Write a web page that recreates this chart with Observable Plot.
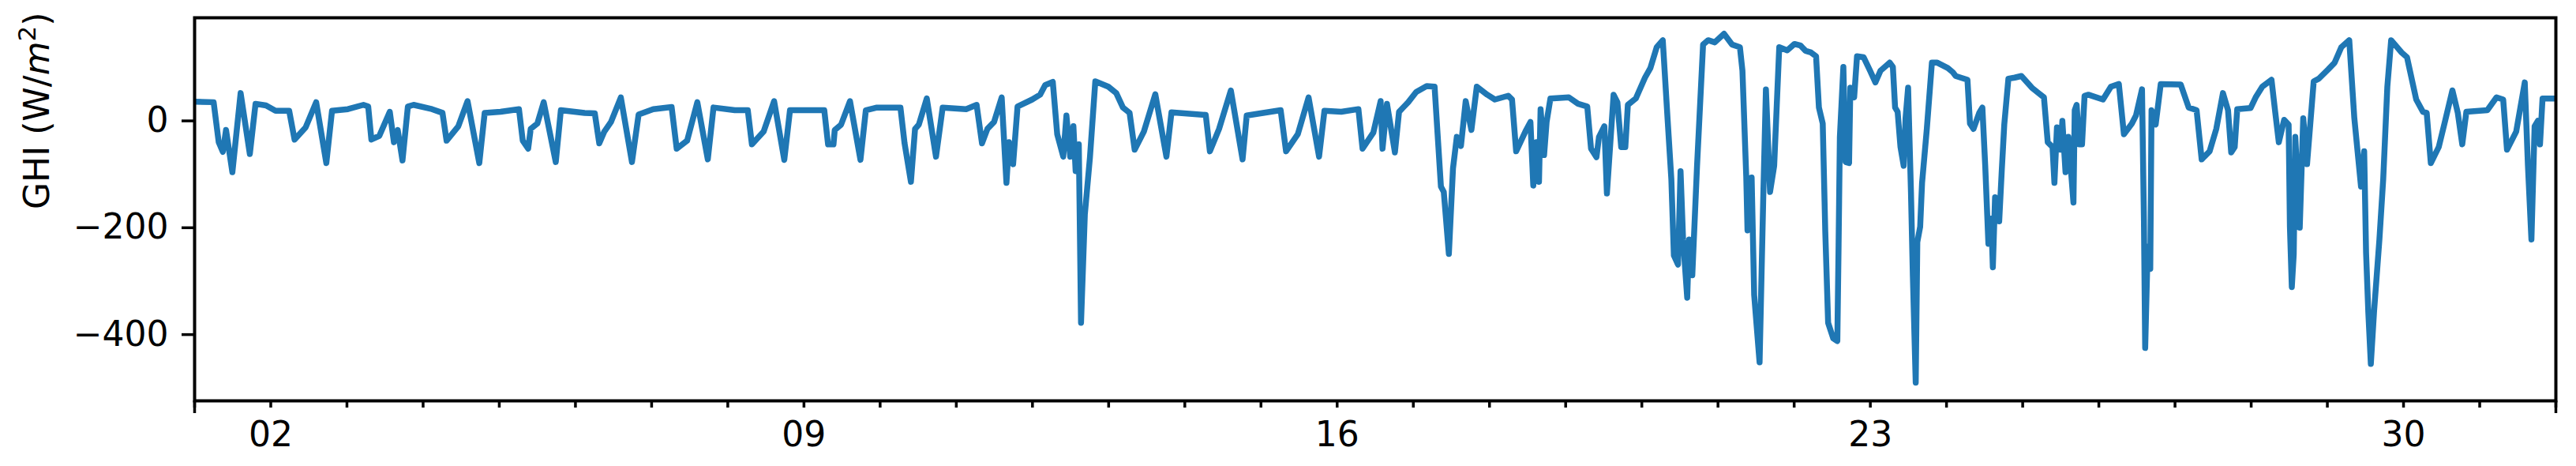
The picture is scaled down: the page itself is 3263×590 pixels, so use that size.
<!DOCTYPE html>
<html>
<head>
<meta charset="utf-8">
<script src="https://cdn.jsdelivr.net/npm/d3@7"></script>
<script src="https://cdn.jsdelivr.net/npm/@observablehq/plot@0.6"></script>
<style>
  html, body { margin: 0; padding: 0; background: #fff; }
  #chart svg { display: block; }
</style>
</head>
<body>
<div id="chart"></div>
<script>
// Hours since the start of the month (UTC) and GHI values (W/m²)
const hours = [
  0,6,7.6,8.9,9.9,11.9,14.5,17.4,19.2,22.5,25.5,29.8,31.5,35,38.3,41.5,43.3,48.3,53.2,54.7,55.7,58.2,61.5,62.8,64,65.5,67.2,69,74.8,78.1,79.4,83.1,86,89.7,91.4,96.4,102.2,103.4,105.1,105.9,108,110,113.8,115.4,122.9,126.1,
  127.5,129.1,131.2,134.3,137.8,139.9,144.5,150.3,151.9,155.2,158.4,161.7,163.5,170.2,174.3,175.6,179.3,182.6,185.8,187.6,198.4,199.6,201.3,201.7,203.7,206.5,209.8,211.5,215,222.4,223.7,225.7,227,228.2,230.7,233.6,235.7,243.1,246.4,248.1,249.8,
  251.9,254.3,255.8,256.6,257.9,259.3,263.9,266.4,268,270.4,271.8,273.7,274.7,275.9,276.9,277.6,278.6,279.3,280.5,282.1,283.8,287.9,290.4,292.5,294.6,296.2,299.1,302.7,306.2,307.8,318.6,319.9,322.8,326.5,330.2,331.5,342.2,343.9,347.6,351,354.3,356,361.3,366.7,368,371.4,373.7,
  374.3,375.7,378.2,379.5,382.4,384.9,388.2,390.7,392.7,393.6,395.2,396.5,397.7,399,400.5,402.3,404,407.3,409.7,413.9,415.1,416.4,419.3,420.9,421.8,422.8,423.6,424.1,425.2,426,427.2,433,435.9,438.8,440,441.7,442.5,444.2,445,447.1,448.3,449.5,450.8,451.6,454.1,457,458.7,460.7,462.6,464.1,465.3,466.1,467.4,468.2,469,470.3,470.9,471.9,473.4,475.3,476.9,479,481.9,484.4,486.9,487.7,488.9,489.3,490.6,491.4,493.1,494.3,495.1,496.4,497.7,499.3,
  501.8,504.1,506,507.6,509.3,510.9,511.8,513,513.8,514.7,516.3,517.6,518,518.4,519.5,520.2,521.3,521.7,522.9,523.8,525.9,527.9,529.6,531.2,534.1,535.1,535.8,536.6,537.5,538.5,539.1,539.9,540.8,541.4,542.3,542.8,543.7,544.3,545.8,547.4,549.1,552.4,554,554.9,558.6,559.4,560.5,562.3,563.3,564.2,565.2,566.1,566.6,567.3,568.6,569.4,570.2,571.5,573.5,575.6,578.9,581,582.7,583.9,585.4,586,586.8,588,588.5,589.5,590.4,592,592.4,593,593.8,594.7,595.5,596.7,601.3,603.8,606.3,607.9,610.4,611.7,613.6,614.2,614.6,615.4,616.2,616.6,617.9,619.5,
  625.8,628.3,630.8,632.4,634.9,637,639.1,640.7,641.7,642.8,643.6,647.8,649.4,651.5,654.4,655.6,656.7,658.4,659.8,660.2,660.8,661.4,661.9,663.3,664.4,665.6,667.7,669.3,672.2,674.3,676.4,678.9,680.5,681.8,682.6,683.6,684.2,684.9,685.7,686.7,688.4,689.6,690.9,692.1,695.4,697.1,700,702.1,703.3,704.6,707.1,709.1,711.4,713.1,714.5,715.8,722.4,725.3,727.4,728.6,731.5,734.2,735.2,736.3,737.3,738.3,739,739.8,744
];
const ghi = [
  36,35,-40,-58,-17,-96,52,-62,32,29,19,19,-35,-12,35,-79,19,22,30,27,-35,-28,17,-40,-17,-74,27,30,22,15,-37,-10,37,-79,15,17,22,-37,-52,-15,-5,35,-77,20,15,14,
  -42,-20,-2,44,-77,12,22,26,-52,-37,35,-72,25,20,20,-44,-20,37,-73,20,20,-44,-44,-17,-7,37,-73,20,25,25,-42,-114,-15,-7,42,-67,25,22,30,-42,-15,
  -2,44,-116,-40,-81,27,40,49,67,73,-25,-67,10,-67,-10,-94,-44,-378,-175,-69,74,64,52,25,15,-54,-20,50,-67,16,11,-57,-15,57,-72,10,20,-57,-25,44,-67,19,17,22,-52,-22,37,
  -52,32,-59,17,35,54,65,64,-123,-133,-249,-89,-30,-47,37,-17,64,49,40,47,40,-57,-20,-2,-121,-40,-114,22,-64,-2,42,44,32,27,-52,-68,-30,-10,-136,49,35,-49,-49,30,42,81,99,138,151,5,-109,-252,-269,-94,-222,-331,-222,-289,-84,143,151,147,163,143,138,94,-104,-205,-106,-326,-452,-133,59,-133,-84,138,
  132,144,141,131,128,121,25,-5,-207,-378,-407,-412,-232,-30,101,-77,-79,62,44,121,119,94,72,94,109,101,25,17,-49,-84,5,62,-133,-291,-490,-227,-198,-116,-15,109,109,99,91,84,77,-5,-15,15,25,-84,-230,-183,-274,-143,-188,-94,-7,79,81,84,62,52,44,-40,-49,-116,-12,-54,0,-96,-30,-153,20,30,-44,-44,47,49,40,64,69,-25,-5,10,59,-183,-425,-235,-277,20,-7,69,
  68,25,20,-72,-57,-15,52,20,-59,-49,22,24,44,64,77,15,-40,2,-7,-198,-311,-250,-30,-200,5,-81,74,79,96,109,138,151,5,-74,-123,-57,-247,-358,-455,-358,-222,-109,64,151,128,119,40,17,15,-79,-49,0,57,15,-44,17,20,44,40,-54,-20,72,-84,-222,-10,0,-44,42,42
];
const yTicks = [-400, -200, 0];
const labelDays = [2, 9, 16, 23, 30];
const yLabelPlain = "GHI (W/m2)";

const start = Date.UTC(2019, 0, 1);
const end = Date.UTC(2019, 1, 1);
const data = hours.map((h, i) => ({t: new Date(start + h * 3600e3), v: ghi[i]}));
const dayTicks = d3.utcDay.range(new Date(start), new Date(end + 1));
const edgeTicks = [new Date(start), new Date(end)];
const fmtDay = d3.utcFormat("%d");

const chart = Plot.plot({
  width: 3263,
  height: 590,
  marginLeft: 246,
  marginRight: 26,
  marginTop: 22,
  marginBottom: 83,
  style: {fontFamily: "'DejaVu Sans', sans-serif", fontSize: "44px", color: "#000", background: "#fff", overflow: "visible"},
  x: {type: "utc", domain: edgeTicks},
  y: {domain: [-524, 193]},
  marks: [
    Plot.line(data, {x: "t", y: "v", stroke: "#1f77b4", strokeWidth: 7.5, strokeLinejoin: "round", strokeLinecap: "butt", clip: true}),
    Plot.axisY({ticks: yTicks, tickSize: 16, tickPadding: 17, strokeWidth: 3.5, label: null}),
    Plot.axisX({ticks: dayTicks, tickSize: 9, tickPadding: 17, strokeWidth: 3.5, label: null,
      tickFormat: d => (d.getUTCMonth() === 0 && labelDays.includes(d.getUTCDate())) ? fmtDay(d) : ""}),
    Plot.axisX({ticks: edgeTicks, tickSize: 16, strokeWidth: 3.5, label: null, tickFormat: () => ""}),
    Plot.frame({stroke: "#000", strokeWidth: 4}),
    Plot.text([yLabelPlain], {text: d => d, frameAnchor: "left", dx: -199, rotate: -90, fontSize: 44, fill: "#000"})
  ]
});

// Rich label: italic m with superscript 2
d3.select(chart).selectAll("text").filter(function() { return this.textContent === yLabelPlain; })
  .each(function() {
    const t = d3.select(this);
    t.text(null);
    t.append("tspan").text("GHI (W/");
    t.append("tspan").attr("font-style", "italic").text("m");
    t.append("tspan").attr("font-size", 31).attr("dy", -17).text("2");
    t.append("tspan").attr("dy", 17).text(")");
  });

document.getElementById("chart").appendChild(chart);
</script>
</body>
</html>
